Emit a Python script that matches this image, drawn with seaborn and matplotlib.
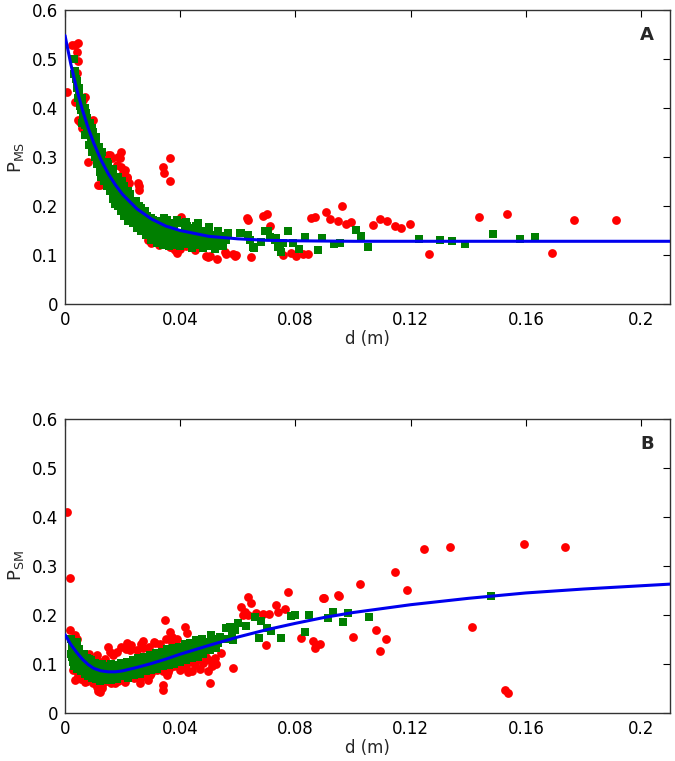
import numpy as np
import pandas as pd
import matplotlib
matplotlib.use("Agg")
import matplotlib.pyplot as plt
import seaborn as sns

# ---------------- Panel A data ----------------
a_red_d = [0.0006, 0.0023, 0.0035, 0.0040, 0.0044, 0.0046, 0.0040, 0.0035, 0.0064, 0.0069, 0.0046, 0.0052,
           0.0058, 0.0098, 0.0081, 0.0116, 0.0121, 0.0145, 0.0150, 0.0156, 0.0162, 0.0173, 0.0179, 0.0185,
           0.0191, 0.0196, 0.0196, 0.0202, 0.0204, 0.0208, 0.0214, 0.0216, 0.0222, 0.0133, 0.0254, 0.0258,
           0.0258, 0.0237, 0.0248, 0.0341, 0.0343, 0.0364, 0.0364, 0.0283, 0.0289, 0.0295, 0.0306, 0.0318,
           0.0353, 0.0364, 0.0370, 0.0376, 0.0381, 0.0387, 0.0404, 0.0491, 0.0497, 0.0503, 0.0526, 0.0555,
           0.0560, 0.0583, 0.0589, 0.0595, 0.0630, 0.0635, 0.0647, 0.0687, 0.0701, 0.0710, 0.0757, 0.0786,
           0.0803, 0.0826, 0.0843, 0.0855, 0.0867, 0.0907, 0.0921, 0.0947, 0.0962, 0.0976, 0.0994, 0.1069,
           0.1092, 0.1117, 0.1144, 0.1167, 0.1196, 0.1263, 0.1436, 0.1534, 0.1689, 0.1767, 0.1911,
           0.0300, 0.0325, 0.0335, 0.0390, 0.0400, 0.0420, 0.0450, 0.0265, 0.0275]
a_red_p = [0.433, 0.529, 0.529, 0.515, 0.532, 0.495, 0.471, 0.413, 0.416, 0.423, 0.376, 0.372,
           0.360, 0.376, 0.290, 0.243, 0.243, 0.243, 0.304, 0.304, 0.297, 0.209, 0.284, 0.300,
           0.297, 0.311, 0.280, 0.267, 0.270, 0.273, 0.260, 0.257, 0.247, 0.246, 0.246, 0.240,
           0.233, 0.171, 0.168, 0.280, 0.267, 0.297, 0.250, 0.144, 0.131, 0.137, 0.134, 0.131,
           0.124, 0.117, 0.117, 0.114, 0.110, 0.124, 0.178, 0.097, 0.095, 0.097, 0.091, 0.107,
           0.103, 0.103, 0.097, 0.100, 0.175, 0.171, 0.095, 0.180, 0.183, 0.159, 0.100, 0.105,
           0.098, 0.102, 0.102, 0.176, 0.178, 0.187, 0.173, 0.170, 0.199, 0.163, 0.168, 0.161,
           0.173, 0.170, 0.160, 0.156, 0.163, 0.103, 0.178, 0.184, 0.105, 0.171, 0.171,
           0.125, 0.120, 0.140, 0.105, 0.112, 0.118, 0.110, 0.160, 0.150]

a_grn_d = [0.0030, 0.0032, 0.0036, 0.0040, 0.0042, 0.0046, 0.0050, 0.0052, 0.0056, 0.0060, 0.0062, 0.0066,
           0.0070, 0.0072, 0.0076, 0.0080, 0.0082, 0.0086, 0.0090, 0.0092, 0.0096, 0.0100, 0.0104, 0.0108,
           0.0112, 0.0116, 0.0120, 0.0124, 0.0128, 0.0132, 0.0136, 0.0140, 0.0144, 0.0148, 0.0152, 0.0156,
           0.0160, 0.0164, 0.0168, 0.0172, 0.0176, 0.0180, 0.0184, 0.0188, 0.0192, 0.0196, 0.0200, 0.0205,
           0.0210, 0.0215, 0.0220, 0.0225, 0.0230, 0.0235, 0.0240, 0.0245, 0.0250, 0.0255, 0.0260, 0.0265,
           0.0270, 0.0275, 0.0280, 0.0285, 0.0290, 0.0295, 0.0300, 0.0305, 0.0310, 0.0315, 0.0320, 0.0325,
           0.0330, 0.0335, 0.0340, 0.0345, 0.0350, 0.0355, 0.0360, 0.0365, 0.0370, 0.0375, 0.0380, 0.0385,
           0.0390, 0.0395, 0.0400, 0.0405, 0.0410, 0.0415, 0.0420, 0.0425, 0.0430, 0.0435, 0.0440, 0.0445,
           0.0450, 0.0455, 0.0460, 0.0465, 0.0470, 0.0475, 0.0480, 0.0490, 0.0495, 0.0500, 0.0510, 0.0520,
           0.0530, 0.0540, 0.0550,
           0.0038, 0.0058, 0.0078, 0.0098, 0.0118, 0.0138, 0.0158, 0.0178, 0.0198, 0.0218, 0.0238, 0.0258,
           0.0278, 0.0298, 0.0318, 0.0338, 0.0358, 0.0378, 0.0398, 0.0418, 0.0438, 0.0458, 0.0478, 0.0498,
           0.0518, 0.0538, 0.0558, 0.0048, 0.0068, 0.0088, 0.0108, 0.0128, 0.0148, 0.0168, 0.0188, 0.0208,
           0.0228, 0.0248, 0.0268, 0.0288, 0.0308, 0.0328, 0.0348, 0.0368,
           0.0085, 0.0095, 0.0105, 0.0110, 0.0120, 0.0125, 0.0135, 0.0145, 0.0155, 0.0165, 0.0175, 0.0185,
           0.0195, 0.0205, 0.0220, 0.0235, 0.0250, 0.0265, 0.0280, 0.0300, 0.0320, 0.0340, 0.0360, 0.0380,
           0.0400, 0.0440, 0.0480, 0.0520, 0.0060, 0.0070,
           0.0145, 0.0165, 0.0185, 0.0205, 0.0225, 0.0245, 0.0265, 0.0285, 0.0305, 0.0325, 0.0345, 0.0380,
           0.0420, 0.0460, 0.0500, 0.0530,
           0.0566, 0.0607, 0.0610, 0.0635, 0.0641, 0.0653, 0.0655, 0.0682, 0.0693, 0.0705, 0.0711, 0.0728,
           0.0734, 0.0739, 0.0745, 0.0751, 0.0757, 0.0774, 0.0791, 0.0812, 0.0832, 0.0878, 0.0893, 0.0932,
           0.0953, 0.1009, 0.1029, 0.1050, 0.1229, 0.1301, 0.1345, 0.1390, 0.1486, 0.1581, 0.1630]
a_grn_p = [0.500, 0.470, 0.475, 0.440, 0.455, 0.420, 0.430, 0.405, 0.395, 0.410, 0.380, 0.385,
           0.365, 0.390, 0.355, 0.370, 0.345, 0.350, 0.335, 0.360, 0.325, 0.340, 0.315, 0.330,
           0.300, 0.310, 0.290, 0.305, 0.280, 0.290, 0.265, 0.280, 0.255, 0.270, 0.245, 0.260,
           0.240, 0.255, 0.230, 0.250, 0.225, 0.240, 0.220, 0.245, 0.215, 0.235, 0.205, 0.225,
           0.200, 0.220, 0.190, 0.210, 0.185, 0.200, 0.175, 0.195, 0.170, 0.185, 0.165, 0.180,
           0.160, 0.172, 0.150, 0.168, 0.148, 0.162, 0.140, 0.158, 0.138, 0.165, 0.135, 0.150,
           0.130, 0.170, 0.140, 0.155, 0.128, 0.172, 0.135, 0.150, 0.125, 0.160, 0.140, 0.132,
           0.172, 0.145, 0.128, 0.165, 0.135, 0.150, 0.122, 0.160, 0.138, 0.128, 0.155, 0.140,
           0.125, 0.160, 0.132, 0.145, 0.120, 0.150, 0.135, 0.125, 0.142, 0.118, 0.135, 0.128,
           0.122, 0.138, 0.118,
           0.460, 0.420, 0.380, 0.350, 0.320, 0.290, 0.270, 0.260, 0.250, 0.230, 0.210, 0.200,
           0.190, 0.175, 0.170, 0.160, 0.155, 0.148, 0.140, 0.142, 0.135, 0.138, 0.128, 0.130,
           0.140, 0.125, 0.130, 0.440, 0.400, 0.370, 0.340, 0.310, 0.285, 0.265, 0.230, 0.215,
           0.198, 0.180, 0.170, 0.158, 0.148, 0.142, 0.145, 0.138,
           0.325, 0.310, 0.300, 0.285, 0.270, 0.260, 0.250, 0.240, 0.230, 0.215, 0.205, 0.200,
           0.190, 0.180, 0.170, 0.165, 0.155, 0.148, 0.140, 0.130, 0.125, 0.120, 0.118, 0.120,
           0.118, 0.115, 0.115, 0.112, 0.370, 0.345,
           0.290, 0.275, 0.260, 0.240, 0.225, 0.210, 0.195, 0.180, 0.172, 0.168, 0.175, 0.165,
           0.168, 0.165, 0.158, 0.150,
           0.144, 0.144, 0.144, 0.141, 0.131, 0.117, 0.114, 0.127, 0.148, 0.148, 0.137, 0.131,
           0.134, 0.117, 0.117, 0.107, 0.125, 0.148, 0.124, 0.112, 0.136, 0.110, 0.134, 0.122,
           0.124, 0.151, 0.139, 0.116, 0.133, 0.131, 0.129, 0.123, 0.142, 0.133, 0.137]

a_fit_d = [0.0, 0.002, 0.004, 0.006, 0.008, 0.010, 0.0125, 0.015, 0.0175, 0.020, 0.025, 0.030,
           0.035, 0.040, 0.050, 0.060, 0.070, 0.080, 0.100, 0.140, 0.210]
a_fit_p = [0.548, 0.490, 0.440, 0.397, 0.360, 0.328, 0.294, 0.266, 0.243, 0.2235, 0.194, 0.1735,
           0.159, 0.150, 0.138, 0.133, 0.130, 0.129, 0.128, 0.128, 0.128]

# ---------------- Panel B data ----------------
b_red_d = [0.0006, 0.0017, 0.0017, 0.0035, 0.0040, 0.0347, 0.0364, 0.0370, 0.0381, 0.0416, 0.0422, 0.0150,
           0.0156, 0.0110, 0.0196, 0.0214, 0.0225, 0.0272, 0.0272, 0.0312, 0.0341, 0.0341, 0.0116, 0.0029,
           0.0035, 0.0052, 0.0069, 0.0098, 0.0110, 0.0121, 0.0127, 0.0173, 0.0191, 0.0208, 0.0260, 0.0289,
           0.0295, 0.0353, 0.0358, 0.0428, 0.0399, 0.0635, 0.0647, 0.0612, 0.0624, 0.0618, 0.0635, 0.0664,
           0.0687, 0.0708, 0.0734, 0.0739, 0.0763, 0.0774, 0.0699, 0.0820, 0.0861, 0.0872, 0.0867, 0.0895,
           0.0947, 0.0543, 0.0583, 0.0503, 0.0898, 0.0951, 0.1023, 0.1146, 0.1188, 0.1247, 0.1338, 0.1413,
           0.0884, 0.0999, 0.1080, 0.1113, 0.1095, 0.1527, 0.1539, 0.1594, 0.1734,
           0.0040, 0.0045, 0.0050, 0.0055, 0.0060, 0.0065, 0.0070, 0.0075, 0.0080, 0.0085, 0.0090, 0.0095,
           0.0100, 0.0105, 0.0110, 0.0115, 0.0120, 0.0125, 0.0130, 0.0135, 0.0140, 0.0145, 0.0150, 0.0160,
           0.0165, 0.0170, 0.0180, 0.0185, 0.0200, 0.0210, 0.0220, 0.0230, 0.0240, 0.0250, 0.0260, 0.0265,
           0.0280, 0.0290, 0.0300, 0.0310, 0.0320, 0.0330, 0.0340, 0.0350, 0.0360, 0.0370, 0.0380, 0.0390,
           0.0400, 0.0410, 0.0420, 0.0430, 0.0440, 0.0450, 0.0460, 0.0470, 0.0480, 0.0490, 0.0495, 0.0500,
           0.0510, 0.0520, 0.0525]
b_red_p = [0.411, 0.275, 0.169, 0.159, 0.152, 0.190, 0.166, 0.156, 0.146, 0.176, 0.163, 0.135,
           0.125, 0.118, 0.135, 0.142, 0.129, 0.146, 0.132, 0.142, 0.057, 0.047, 0.044, 0.088,
           0.067, 0.071, 0.064, 0.061, 0.054, 0.043, 0.050, 0.061, 0.071, 0.064, 0.061, 0.067,
           0.078, 0.078, 0.084, 0.084, 0.098, 0.237, 0.224, 0.217, 0.207, 0.200, 0.200, 0.205,
           0.203, 0.203, 0.220, 0.207, 0.212, 0.246, 0.139, 0.154, 0.147, 0.139, 0.132, 0.235,
           0.241, 0.122, 0.091, 0.061, 0.234, 0.239, 0.263, 0.287, 0.250, 0.334, 0.339, 0.175,
           0.141, 0.156, 0.169, 0.150, 0.127, 0.047, 0.040, 0.344, 0.339,
           0.085, 0.075, 0.125, 0.070, 0.080, 0.115, 0.072, 0.065, 0.078, 0.120, 0.068, 0.075,
           0.110, 0.062, 0.072, 0.060, 0.105, 0.068, 0.058, 0.075, 0.110, 0.065, 0.072, 0.062,
           0.118, 0.070, 0.125, 0.065, 0.068, 0.130, 0.075, 0.138, 0.072, 0.128, 0.070, 0.140,
           0.075, 0.135, 0.082, 0.145, 0.088, 0.140, 0.085, 0.150, 0.090, 0.142, 0.095, 0.150,
           0.088, 0.100, 0.092, 0.105, 0.085, 0.098, 0.110, 0.090, 0.102, 0.115, 0.085, 0.108,
           0.095, 0.112, 0.100]

b_grn_d = [0.0020, 0.0022, 0.0025, 0.0028, 0.0030, 0.0032, 0.0035, 0.0038, 0.0040, 0.0042, 0.0045, 0.0048,
           0.0050, 0.0055, 0.0058, 0.0060, 0.0065, 0.0068, 0.0070, 0.0075, 0.0078, 0.0080, 0.0085, 0.0088,
           0.0090, 0.0095, 0.0098, 0.0100, 0.0105, 0.0108, 0.0110, 0.0115, 0.0118, 0.0120, 0.0125, 0.0128,
           0.0130, 0.0135, 0.0138, 0.0140, 0.0145, 0.0150, 0.0155, 0.0158, 0.0160, 0.0165, 0.0170, 0.0175,
           0.0180, 0.0185, 0.0190, 0.0195, 0.0200, 0.0205, 0.0210, 0.0215, 0.0220, 0.0225, 0.0230, 0.0235,
           0.0240, 0.0245, 0.0250, 0.0255, 0.0260, 0.0265, 0.0270, 0.0275, 0.0280, 0.0285, 0.0290, 0.0295,
           0.0300, 0.0305, 0.0310, 0.0315, 0.0320, 0.0325, 0.0330, 0.0335, 0.0340, 0.0345, 0.0350, 0.0355,
           0.0360, 0.0365, 0.0370, 0.0375, 0.0380, 0.0385, 0.0390, 0.0395, 0.0400, 0.0405, 0.0410, 0.0415,
           0.0420, 0.0425, 0.0430, 0.0435, 0.0440, 0.0445, 0.0450, 0.0455, 0.0460, 0.0465, 0.0470, 0.0475,
           0.0480, 0.0485, 0.0490, 0.0500, 0.0505, 0.0510, 0.0520, 0.0525, 0.0530,
           0.0035, 0.0055, 0.0075, 0.0095, 0.0115, 0.0135, 0.0155, 0.0175, 0.0195, 0.0215, 0.0235, 0.0255,
           0.0275, 0.0295, 0.0315, 0.0335, 0.0355, 0.0375, 0.0395, 0.0415, 0.0435, 0.0455, 0.0475, 0.0025,
           0.0045, 0.0065, 0.0085, 0.0105, 0.0125, 0.0145, 0.0165, 0.0185, 0.0205, 0.0225, 0.0245, 0.0265,
           0.0285, 0.0305, 0.0325, 0.0345, 0.0365,
           0.0797, 0.0786, 0.0847, 0.0930, 0.0913, 0.0832, 0.0751, 0.0672, 0.0716, 0.0702, 0.0682, 0.0659,
           0.0627, 0.0601, 0.0589, 0.0572, 0.0560, 0.0578, 0.0555, 0.0537, 0.0508, 0.0583, 0.0531, 0.0982,
           0.0965, 0.1054, 0.1478]
b_grn_p = [0.150, 0.120, 0.135, 0.105, 0.140, 0.095, 0.125, 0.110, 0.145, 0.090, 0.118, 0.100,
           0.130, 0.085, 0.112, 0.095, 0.120, 0.080, 0.105, 0.090, 0.112, 0.075, 0.098, 0.085,
           0.108, 0.072, 0.095, 0.082, 0.102, 0.070, 0.090, 0.078, 0.098, 0.065, 0.088, 0.075,
           0.100, 0.068, 0.085, 0.095, 0.072, 0.090, 0.078, 0.100, 0.068, 0.088, 0.080, 0.098,
           0.070, 0.090, 0.078, 0.102, 0.075, 0.092, 0.082, 0.105, 0.072, 0.095, 0.085, 0.108,
           0.078, 0.098, 0.088, 0.112, 0.080, 0.100, 0.092, 0.115, 0.085, 0.105, 0.095, 0.118,
           0.088, 0.108, 0.098, 0.122, 0.090, 0.112, 0.102, 0.125, 0.095, 0.115, 0.105, 0.130,
           0.098, 0.118, 0.108, 0.132, 0.100, 0.122, 0.112, 0.135, 0.105, 0.125, 0.115, 0.140,
           0.108, 0.128, 0.118, 0.142, 0.112, 0.132, 0.122, 0.148, 0.115, 0.135, 0.125, 0.150,
           0.120, 0.140, 0.130, 0.145, 0.128, 0.138, 0.150, 0.132, 0.142,
           0.100, 0.100, 0.082, 0.088, 0.092, 0.080, 0.085, 0.085, 0.088, 0.090, 0.092, 0.095,
           0.100, 0.102, 0.105, 0.110, 0.115, 0.118, 0.120, 0.125, 0.128, 0.132, 0.135, 0.115,
           0.130, 0.095, 0.110, 0.085, 0.072, 0.092, 0.070, 0.078, 0.080, 0.082, 0.085, 0.088,
           0.092, 0.095, 0.098, 0.102, 0.105,
           0.200, 0.197, 0.200, 0.207, 0.193, 0.166, 0.154, 0.154, 0.167, 0.173, 0.188, 0.195,
           0.178, 0.184, 0.169, 0.176, 0.173, 0.161, 0.152, 0.156, 0.159, 0.149, 0.142, 0.205,
           0.186, 0.196, 0.239]

b_fit_d = [0.0, 0.002, 0.004, 0.006, 0.008, 0.010, 0.0125, 0.015, 0.0175, 0.020, 0.025, 0.030,
           0.035, 0.040, 0.050, 0.060, 0.070, 0.080, 0.090, 0.100, 0.120, 0.140, 0.160, 0.180, 0.210]
b_fit_p = [0.160, 0.140, 0.124, 0.110, 0.099, 0.091, 0.086, 0.084, 0.084, 0.086, 0.093, 0.101,
           0.110, 0.120, 0.138, 0.155, 0.170, 0.183, 0.195, 0.205, 0.221, 0.234, 0.245, 0.253, 0.263]

x_ticks = [0, 0.04, 0.08, 0.12, 0.16, 0.2]
x_tick_labels = ["0", "0.04", "0.08", "0.12", "0.16", "0.2"]
y_ticks = [0, 0.1, 0.2, 0.3, 0.4, 0.5, 0.6]
y_tick_labels = ["0", "0.1", "0.2", "0.3", "0.4", "0.5", "0.6"]

sns.set_style("white")
plt.rcParams['font.family'] = ['DejaVu Sans']
plt.rcParams['mathtext.fontset'] = 'dejavusans'

fig = plt.figure(figsize=(6.75, 7.61), dpi=100)
axA = fig.add_axes([0.0963, 0.6005, 0.8963, 0.3864])
axB = fig.add_axes([0.0963, 0.0631, 0.8963, 0.3863])

panels = [
    (axA, a_red_d, a_red_p, a_grn_d, a_grn_p, a_fit_d, a_fit_p, r"P$_{\mathrm{MS}}$", "A"),
    (axB, b_red_d, b_red_p, b_grn_d, b_grn_p, b_fit_d, b_fit_p, r"P$_{\mathrm{SM}}$", "B"),
]

for ax, rd, rp, gd, gp, fd, fp, ylab, letter in panels:
    red_df = pd.DataFrame({"d": rd, "p": rp})
    grn_df = pd.DataFrame({"d": gd, "p": gp})
    fit_df = pd.DataFrame({"d": fd, "p": fp})
    sns.scatterplot(data=red_df, x="d", y="p", ax=ax, color="#ff0000", marker="o",
                    s=40, linewidth=0, zorder=2)
    sns.scatterplot(data=grn_df, x="d", y="p", ax=ax, color="#007f00", marker="s",
                    s=28, linewidth=0, zorder=3)
    sns.lineplot(data=fit_df, x="d", y="p", ax=ax, color="#0000ee", linewidth=2.2,
                 zorder=4, sort=True)
    ax.set_xlim(0, 0.21)
    ax.set_ylim(0, 0.6)
    ax.set_xticks(x_ticks)
    ax.set_xticklabels(x_tick_labels)
    ax.set_yticks(y_ticks)
    ax.set_yticklabels(y_tick_labels)
    ax.tick_params(direction="in", length=5, width=0.8, top=True, right=True,
                   labelsize=12, colors="black", pad=5)
    for sp in ax.spines.values():
        sp.set_color("#333333")
        sp.set_linewidth(1.0)
    ax.set_xlabel("d (m)", fontsize=12, labelpad=1)
    ax.set_ylabel(ylab, fontsize=13, labelpad=4)
    ax.text(0.962, 0.915, letter, transform=ax.transAxes, fontsize=13,
            fontweight="bold", ha="center", va="center")

fig.savefig("out.png", dpi=100)
